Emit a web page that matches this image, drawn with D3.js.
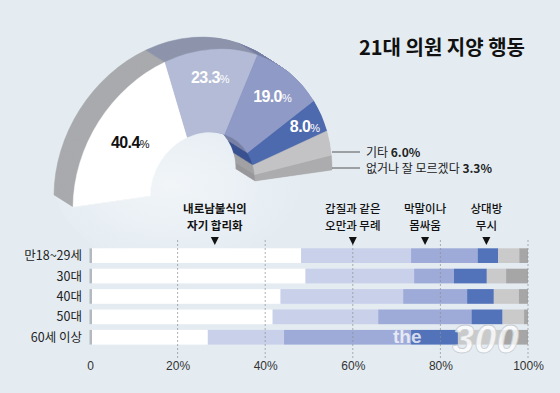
<!DOCTYPE html>
<html>
<head>
<meta charset="utf-8">
<script src="https://cdnjs.cloudflare.com/ajax/libs/d3/7.8.5/d3.min.js"></script>
<style>
  body { margin: 0; background: #e4ecf2; }
  svg { display: block; }
  text { font-family: "Noto Sans CJK KR", "Noto Sans", sans-serif; }
  .num { font-family: "Liberation Sans", Arial, sans-serif; }
</style>
</head>
<body>
<div class="chart"></div>
<script>
// overall answers (half donut)
var categories = ["내로남불식의 자기 합리화", "갑질과 같은 오만과 무례", "막말이나 몸싸움", "상대방 무시", "기타", "없거나 잘 모르겠다"];
var totalValues = [40.4, 23.3, 19.0, 8.0, 6.0, 3.3];

// answers by age group (stacked bars), same order as categories
var ageGroups = ["만18~29세", "30대", "40대", "50대", "60세 이상"];
var age1829 = [48.2, 25.1, 15.2, 4.7, 4.8, 2.0];
var age30s = [49.2, 24.8, 9.1, 7.5, 4.4, 5.0];
var age40s = [43.5, 28.0, 14.6, 6.1, 5.7, 2.1];
var age50s = [41.7, 24.1, 21.3, 7.1, 4.9, 0.9];
var age60plus = [26.9, 17.4, 29.0, 10.7, 10.0, 6.0];

var xTicks = [0, 20, 40, 60, 80, 100];

// labels over the bar chart
var annotLines = [["내로남불식의", "자기 합리화"], ["갑질과 같은", "오만과 무례"], ["막말이나", "몸싸움"], ["상대방", "무시"]];

// colours
var faceColors = ["#ffffff", "#b3bbd6", "#8f9ac6", "#4e6aae", "#c3c3c5", "#acacae"];
var wallColors = ["#a9aaad", "#8d94ab", "#7981a5", "#3a5291", "#a2a2a5", "#98989b"];
var barColors = ["#ffffff", "#c9d0ea", "#9eaad8", "#5272ba", "#cacaca", "#a6a6a6"];

var svg = d3.select(".chart").append("svg")
  .attr("width", 560)
  .attr("height", 393);

// soft light patch behind the donut hole
var defs = svg.append("defs");
var grad = defs.append("radialGradient").attr("id", "bgGlow")
  .attr("cx", 0.38).attr("cy", 0.5).attr("r", 0.45);
grad.append("stop").attr("offset", "0%").attr("stop-color", "#f1f5f8");
grad.append("stop").attr("offset", "100%").attr("stop-color", "#e4ecf2");
svg.append("rect").attr("width", 560).attr("height", 393).attr("fill", "#e4ecf2");
svg.append("ellipse").attr("cx", 205).attr("cy", 185).attr("rx", 150).attr("ry", 90)
  .attr("fill", "url(#bgGlow)");

// ---------- half donut ----------
var pie = d3.pie().sort(null).startAngle(-Math.PI / 2).endAngle(Math.PI / 2);
var arcs = pie(totalValues);
var arc = d3.arc().innerRadius(40.5).outerRadius(100);

// tilt of the ring face, and the depth of the extrusion
var tilt = [1.295, -0.185, -0.0105, 1.382, 202.5, 188.5];
var depth = [-19, -12];
var steps = 24;

function project(p) {
  return [tilt[0] * p[0] + tilt[2] * p[1] + tilt[4], tilt[1] * p[0] + tilt[3] * p[1] + tilt[5]];
}

// side walls: stack copies of the slices from back to front
for (var s = steps; s >= 1; s--) {
  var t = s / steps;
  svg.append("g")
    .attr("transform", `translate(${depth[0] * t},${depth[1] * t}) matrix(${tilt.join(",")})`)
    .selectAll("path")
    .data(arcs)
    .enter()
    .append("path")
    .attr("d", arc)
    .attr("fill", (d, i) => wallColors[i])
    .attr("stroke", (d, i) => wallColors[i])
    .attr("stroke-width", 0.4);
}

// front face
svg.append("g")
  .attr("transform", `matrix(${tilt.join(",")})`)
  .selectAll("path")
  .data(arcs)
  .enter()
  .append("path")
  .attr("d", arc)
  .attr("fill", (d, i) => faceColors[i])
  .attr("stroke", (d, i) => faceColors[i])
  .attr("stroke-width", 0.3);

// value labels on the first four slices
var labelR = [70, 80, 80, 86];
arcs.slice(0, 4).forEach(function(d, i) {
  var mid = (d.startAngle + d.endAngle) / 2;
  var pos = project([labelR[i] * Math.sin(mid), -labelR[i] * Math.cos(mid)]);
  var label = svg.append("text")
    .attr("class", "num")
    .attr("x", pos[0])
    .attr("y", pos[1] + 6)
    .attr("text-anchor", "middle")
    .attr("fill", i === 0 ? "#111" : "#fff")
    .attr("font-weight", "bold")
    .attr("font-size", 16)
    .attr("letter-spacing", -0.6);
  label.append("tspan").text(d.data.toFixed(1));
  label.append("tspan").attr("font-size", 11).attr("font-weight", "normal").text("%");
});

// leader labels for the two small slices
var smallLabels = [{ name: "기타", y: 152 }, { name: "없거나 잘 모르겠다", y: 168 }];
smallLabels.forEach(function(l, i) {
  svg.append("line")
    .attr("x1", 332).attr("x2", 360)
    .attr("y1", l.y).attr("y2", l.y)
    .attr("stroke", "#555").attr("stroke-width", 1);
  var tx = svg.append("text")
    .attr("x", 366)
    .attr("y", l.y + 4.5)
    .attr("font-size", 12)
    .attr("fill", "#222");
  tx.append("tspan").text(l.name + " ");
  tx.append("tspan").attr("font-weight", "bold").text(" " + totalValues[4 + i].toFixed(1) + "%");
});

// title
svg.append("text")
  .attr("x", 525)
  .attr("y", 55)
  .attr("text-anchor", "end")
  .attr("font-size", 20)
  .attr("font-weight", "bold")
  .attr("fill", "#111")
  .text("21대 의원 지양 행동");

// ---------- stacked bars by age ----------
var rows = ageGroups.map(function(g, i) {
  return { group: g, values: [age1829, age30s, age40s, age50s, age60plus][i] };
});

var x = d3.scaleLinear().domain([0, 100]).range([90, 528]);
var y = d3.scaleBand().domain(ageGroups).range([248.3, 344.6]).paddingInner(0.28).paddingOuter(0);

var stack = d3.stack()
  .keys(d3.range(categories.length))
  .value((d, k) => d.values[k]);
var series = stack(rows);

svg.append("g")
  .selectAll("g")
  .data(series)
  .enter()
  .append("g")
  .attr("fill", (d, i) => barColors[i])
  .selectAll("rect")
  .data(d => d)
  .enter()
  .append("rect")
  .attr("x", d => x(d[0]))
  .attr("y", d => y(d.data.group))
  .attr("width", d => x(d[1]) - x(d[0]))
  .attr("height", y.bandwidth());

// short grey stubs at the left edge of each bar
svg.append("g")
  .selectAll("rect")
  .data(ageGroups)
  .enter()
  .append("rect")
  .attr("x", x(0) - 0.5)
  .attr("y", d => y(d))
  .attr("width", 2.5)
  .attr("height", y.bandwidth())
  .attr("fill", "#b4b9c0");

// the300 watermark (under the grid and labels)
svg.append("text")
  .attr("class", "num")
  .attr("x", 393).attr("y", 343)
  .attr("font-size", 19).attr("font-weight", "bold")
  .attr("fill", "#fff").attr("fill-opacity", 0.75)
  .text("the");
svg.append("text")
  .attr("class", "num")
  .attr("x", 452).attr("y", 353)
  .attr("font-size", 40).attr("font-style", "italic").attr("font-weight", "bold")
  .attr("fill", "#fff").attr("fill-opacity", 0.8)
  .attr("stroke", "#c9cdd2").attr("stroke-width", 0.8)
  .text("300");

// dashed grid lines drawn over the bars
svg.append("g")
  .selectAll("line")
  .data(xTicks.slice(1))
  .enter()
  .append("line")
  .attr("x1", d => x(d)).attr("x2", d => x(d))
  .attr("y1", 240).attr("y2", 358)
  .attr("stroke", "#8d8f94")
  .attr("stroke-width", 0.7)
  .attr("stroke-dasharray", "2,2");

// row labels
svg.append("g")
  .selectAll("text")
  .data(ageGroups)
  .enter()
  .append("text")
  .attr("x", 82)
  .attr("y", d => y(d) + y.bandwidth() / 2 + 4.5)
  .attr("text-anchor", "end")
  .attr("font-size", 12.5)
  .attr("fill", "#222")
  .text(d => d);

// x axis
var xAxis = svg.append("g")
  .attr("transform", "translate(0,358)")
  .call(d3.axisBottom(x).tickValues(xTicks).tickSize(0).tickPadding(3)
    .tickFormat(d => d === 0 ? "0" : d + "%"));
xAxis.select(".domain").remove();
xAxis.selectAll("text")
  .attr("class", "num")
  .attr("font-size", 12)
  .attr("fill", "#333");

// category callouts with down triangles
var annotX = [28.5, 60, 76.5, 90.5];
annotLines.forEach(function(lines, i) {
  var cx = x(annotX[i]);
  lines.forEach(function(line, j) {
    svg.append("text")
      .attr("x", cx)
      .attr("y", 212.5 + j * 17)
      .attr("text-anchor", "middle")
      .attr("font-size", 11.5)
      .attr("font-weight", i === 0 ? "bold" : 500)
      .attr("fill", "#111")
      .text(line);
  });
  svg.append("path")
    .attr("d", `M${cx - 4},237 L${cx + 4},237 L${cx},245 Z`)
    .attr("fill", "#111");
});
</script>
</body>
</html>
